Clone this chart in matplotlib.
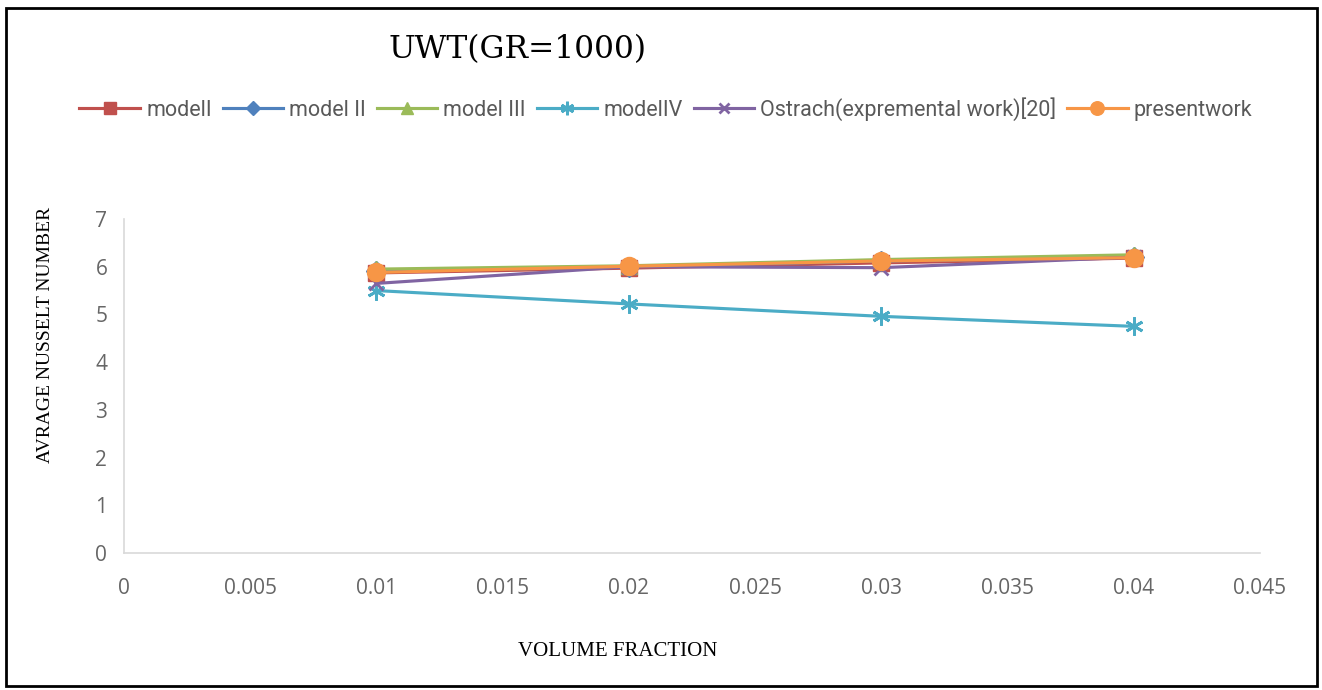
import matplotlib.pyplot as plt
from matplotlib.patches import Rectangle

# data
volume_fraction = [0.01, 0.02, 0.03, 0.04]
model_1 = [5.87, 5.97, 6.08, 6.18]
model_2 = [5.90, 6.00, 6.12, 6.20]
model_3 = [5.95, 6.02, 6.15, 6.25]
model_4 = [5.50, 5.22, 4.96, 4.75]
ostrach = [5.65, 6.00, 5.98, 6.20]
present = [5.88, 6.01, 6.12, 6.19]

x_ticks = [0, 0.005, 0.01, 0.015, 0.02, 0.025, 0.03, 0.035, 0.04, 0.045]
x_tick_labels = ["0", "0.005", "0.01", "0.015", "0.02", "0.025", "0.03", "0.035", "0.04", "0.045"]
y_ticks = [0, 1, 2, 3, 4, 5, 6, 7]

serif = ["Liberation Serif", "DejaVu Serif"]
sans = ["Open Sans", "DejaVu Sans"]
narrow = ["Liberation Sans Narrow", "Roboto", "DejaVu Sans"]

W, H = 1322, 690
fig = plt.figure(figsize=(13.22, 6.9), dpi=100)
ax = fig.add_axes([124 / W, 1 - 553 / H, (1260 - 124) / W, (553 - 219) / H])

series = [
    (model_1, "modelI", "#C0504D", "s", 12),
    (model_2, "model II", "#4F81BD", "D", 10),
    (model_3, "model III", "#9BBB59", "^", 11),
    (model_4, "modelIV", "#4BACC6", (6, 2, 0), 13),
    (ostrach, "Ostrach(expremental work)[20]", "#8064A2", "x", 10),
    (present, "presentwork", "#F79646", "o", 13),
]
for vals, name, col, mk, ms in series:
    ax.plot(volume_fraction, vals, color=col, linewidth=2.25, marker=mk, markersize=ms,
            markeredgewidth=2 if mk == "x" or isinstance(mk, tuple) else 1,
            markeredgecolor=col, label=name)

ax.set_xlim(0, 0.045)
ax.set_ylim(0, 7)
ax.set_xticks(x_ticks)
ax.set_xticklabels(x_tick_labels)
ax.set_yticks(y_ticks)
for lab in ax.get_xticklabels() + ax.get_yticklabels():
    lab.set_family(sans)
    lab.set_fontsize(15)
    lab.set_color("#666666")
ax.tick_params(length=0)
ax.tick_params(axis="y", pad=12)
ax.tick_params(axis="x", pad=18)
for s in ("top", "right"):
    ax.spines[s].set_visible(False)
for s in ("left", "bottom"):
    ax.spines[s].set_color("#D9D9D9")
    ax.spines[s].set_linewidth(1.2)

ax.set_xlabel("VOLUME FRACTION", family=serif, fontsize=15)
ax.xaxis.set_label_coords((618 - 124) / (1260 - 124), -(651 - 553) / (553 - 219))
ax.xaxis.label.set_va("center")
ax.set_ylabel("AVRAGE NUSSELT NUMBER", family=serif, fontsize=14)
ax.yaxis.set_label_coords(-(124 - 46) / (1260 - 124), (553 - 335) / (553 - 219))
ax.yaxis.label.set_va("center")

fig.text(518 / W, 1 - 50 / H, "UWT(GR=1000)", family=["DejaVu Serif"], fontsize=22.5,
         ha="center", va="center")

leg = ax.legend(loc="center", bbox_to_anchor=(666 / W, 1 - 109 / H),
                bbox_transform=fig.transFigure, ncol=6, frameon=False,
                prop={"family": narrow, "size": 15.5}, handlelength=2.8,
                columnspacing=0.5, handletextpad=0.3, markerscale=0.75)
for t in leg.get_texts():
    t.set_color("#595959")

fig.patches.append(Rectangle((6 / W, 4 / H), 1311 / W, 678 / H,
                             transform=fig.transFigure, fill=False,
                             edgecolor="black", linewidth=2))

fig.savefig("out.png", dpi=100)
